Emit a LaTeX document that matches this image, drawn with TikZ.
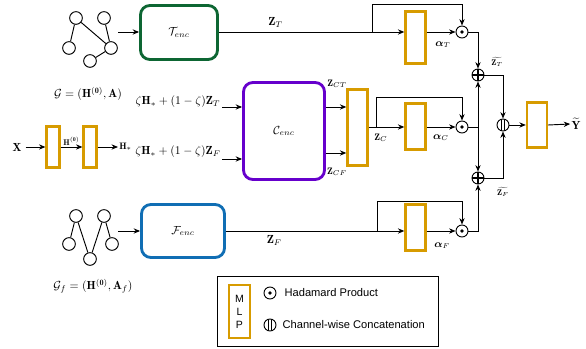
\documentclass[tikz,border=0pt]{standalone}
\usepackage{amsmath,amssymb}
\usepackage{fontspec}
\setsansfont{Liberation Sans}
\usetikzlibrary{arrows.meta,positioning,calc}
\definecolor{encgreen}{RGB}{13,102,51}
\definecolor{encpurple}{RGB}{102,0,204}
\definecolor{encblue}{RGB}{16,110,180}
\definecolor{mlpgold}{RGB}{215,155,0}

\begin{document}
\begin{tikzpicture}[x=0.03cm,y=-0.03cm,>={Stealth[length=5.5pt,width=4.5pt]},
  enc/.style={draw,line width=2.4pt,rounded corners=8pt,minimum width=2.31cm,minimum height=1.62cm},
  mlp/.style={draw=mlpgold,line width=2pt,minimum width=0.6cm,inner sep=0pt},
  vtx/.style={circle,draw,thick,minimum size=0.38cm,inner sep=0pt},
  op/.style={circle,draw,thick,minimum size=0.36cm,inner sep=0pt},
  odot/.style={op,path picture={\fill (path picture bounding box.center) circle (1.6pt);}},
  oplus/.style={op,path picture={\draw[line width=1.2pt] (path picture bounding box.north) -- (path picture bounding box.south)
      (path picture bounding box.west) -- (path picture bounding box.east);}},
  concat/.style={op,path picture={\draw[thick] ([xshift=-1.5pt]path picture bounding box.north) -- ([xshift=-1.5pt]path picture bounding box.south)
      ([xshift=1.5pt]path picture bounding box.north) -- ([xshift=1.5pt]path picture bounding box.south);}},
  wire/.style={thick},
  conn/.style={thick,->},
  legtext/.style={font=\sffamily\fontsize{9.5}{11}\selectfont}
]
  \useasboundingbox (0,0) rectangle (586,349);

  % graph G
  \node[vtx] (gT1) at (76,18) {};
  \node[vtx] (gT2) at (104,18) {};
  \node[vtx] (gT3) at (69,48) {};
  \node[vtx] (gT4) at (111,48) {};
  \node[vtx] (gT5) at (90,61) {};
  \draw[wire] (gT1) -- (gT3) (gT1) -- (gT4) (gT2) -- (gT4) (gT4) -- (gT5);
  \node at (88,94) {$\mathcal{G}=(\mathbf{H}^{(\mathbf{0})},\mathbf{A})$};

  % graph G_f
  \node[vtx] (gF1) at (76,216) {};
  \node[vtx] (gF2) at (104,216) {};
  \node[vtx] (gF3) at (69,244) {};
  \node[vtx] (gF4) at (112,244) {};
  \node[vtx] (gF5) at (90,259) {};
  \draw[wire] (gF1) -- (gF3) (gF1) -- (gF5) (gF2) -- (gF5) (gF2) -- (gF4);
  \node at (93,286) {$\mathcal{G}_f=(\mathbf{H}^{(\mathbf{0})},\mathbf{A}_f)$};

  % encoders
  \node[enc,draw=encgreen] (Tenc) at (179,32.5) {$\mathcal{T}_{enc}$};
  \node[enc,draw=encpurple,minimum width=2.43cm,minimum height=2.91cm] (Cenc) at (284,131) {$\mathcal{C}_{enc}$};
  \node[enc,draw=encblue,minimum width=2.49cm,minimum height=1.59cm] (Fenc) at (183,231) {$\mathcal{F}_{enc}$};
  \coordinate (gTout) at (118,32);
  \coordinate (gFout) at (118,231);
  \draw[conn] (gTout) -- (gTout -| Tenc.west);
  \draw[conn] (gFout) -- (Fenc.west);

  % input MLPs
  \node (X) at (17,147) {$\mathbf{X}$};
  \node[mlp,minimum width=0.39cm,minimum height=1.23cm,line width=1.8pt] (mlpX1) at (53,147) {};
  \node[mlp,minimum width=0.39cm,minimum height=1.23cm,line width=1.8pt] (mlpX2) at (90,147) {};
  \node[font=\footnotesize,inner sep=1pt,anchor=west] (Hs) at (118,147) {$\mathbf{H}_*$};
  \draw[conn] (X) -- (mlpX1);
  \draw[conn] (mlpX1) -- node[above,font=\scriptsize,inner sep=1pt]{$\mathbf{H}^{(\mathbf{0})}$} (mlpX2);
  \draw[conn] (mlpX2) -- (Hs);

  % inputs of C_enc
  \node (inT) at (178,102) {$\zeta\mathbf{H}_*+(1-\zeta)\mathbf{Z}_T$};
  \node (inF) at (178,152) {$\zeta\mathbf{H}_*+(1-\zeta)\mathbf{Z}_F$};
  \coordinate (inTend) at (222,107);
  \coordinate (inFend) at (222,159);
  \draw[conn] (inTend) -- (inTend -| Cenc.west);
  \draw[conn] (inFend) -- (inFend -| Cenc.west);

  % MLPs and products
  \node[mlp,minimum height=1.56cm] (mlpT) at (415.5,37.5) {};
  \node[mlp,minimum height=2.28cm] (mlpC1) at (357.5,127.5) {};
  \node[mlp,minimum height=1.38cm] (mlpC2) at (415.5,126.5) {};
  \node[mlp,minimum height=1.38cm] (mlpF) at (415.5,227.5) {};
  \node[mlp,minimum height=1.35cm] (mlpY) at (537,125) {};
  \node[odot] (odT) at (462,32) {};
  \node[odot] (odC) at (462,127) {};
  \node[odot] (odF) at (462,231) {};
  \node[oplus] (opT) at (478,75) {};
  \node[oplus] (opF) at (478,178) {};
  \node[concat] (cat) at (503,125) {};

  % T branch
  \coordinate (brT) at (372,32);
  \draw[wire] (brT -| Tenc.east) -- node[above,pos=0.37]{$\mathbf{Z}_T$} (brT);
  \draw[conn] (brT) -- (brT -| mlpT.west);
  \draw[conn] (brT) -- ++(0,-28) -| (odT.north);
  \draw[conn] (brT -| mlpT.east) -- (odT.west);
  \node[font=\small] at (443,45) {$\boldsymbol{\alpha}_T$};
  \draw[conn] (odT.east) -| (opT.north);

  % C branch
  \coordinate (zCT) at (326,107);
  \coordinate (zCF) at (326,153);
  \draw[conn] (zCT) -- (zCT -| mlpC1.west);
  \draw[conn] (zCF) -- (zCF -| mlpC1.west);
  \node[font=\footnotesize] at (337,84) {$\mathbf{Z}_{CT}$};
  \node[font=\footnotesize] at (337,172) {$\mathbf{Z}_{CF}$};
  \coordinate (brC) at (376,127);
  \draw[wire] (brC -| mlpC1.east) -- (brC);
  \draw[conn] (brC) -- (brC -| mlpC2.west);
  \draw[conn] (brC) -- ++(0,-30) -| (odC.north);
  \draw[conn] (brC -| mlpC2.east) -- (odC.west);
  \node[font=\footnotesize] at (381,138) {$\mathbf{Z}_C$};
  \node[font=\small] at (441,138) {$\boldsymbol{\alpha}_C$};
  \coordinate (jC) at (478,127);
  \draw[wire] (odC.east) -- (jC);
  \draw[conn] (jC) -- (opT.south);
  \draw[conn] (jC) -- (opF.north);

  % F branch
  \coordinate (brF) at (377,231);
  \draw[wire] (brF -| Fenc.east) -- node[below,pos=0.32]{$\mathbf{Z}_F$} (brF);
  \draw[conn] (brF) -- (brF -| mlpF.west);
  \draw[conn] (brF) -- ++(0,-30) -| (odF.north);
  \draw[conn] (brF -| mlpF.east) -- (odF.west);
  \node[font=\small] at (442,246) {$\boldsymbol{\alpha}_F$};
  \draw[conn] (odF.east) -| (opF.south);

  % fusion
  \draw[conn] (opT.east) -| (cat.north);
  \draw[conn] (opF.east) -| (cat.south);
  \node[font=\scriptsize,inner sep=1pt] at (497,62) {$\widetilde{\mathbf{Z}_T}$};
  \node[font=\scriptsize,inner sep=1pt] at (503,192) {$\widetilde{\mathbf{Z}_F}$};
  \draw[conn] (cat.east) -- (mlpY.west);
  \node[inner sep=1pt] (Y) at (576,124) {$\widetilde{\mathbf{Y}}$};
  \draw[conn] (mlpY.east) -- (Y.west);

  % legend
  \node[draw,thick,minimum width=6.63cm,minimum height=2.1cm] (legend) at (328,311.5) {};
  \node[mlp,minimum width=0.62cm,minimum height=1.6cm,align=center,font=\sffamily\small] (mlpL) at (239.5,311.5) {M\\L\\P};
  \node[odot] (odL) at (270,293) {};
  \node[legtext,right=0.12cm of odL] {Hadamard Product};
  \node[concat] (catL) at (270,325) {};
  \node[legtext,right=0.06cm of catL] {Channel-wise Concatenation};
\end{tikzpicture}
\end{document}
